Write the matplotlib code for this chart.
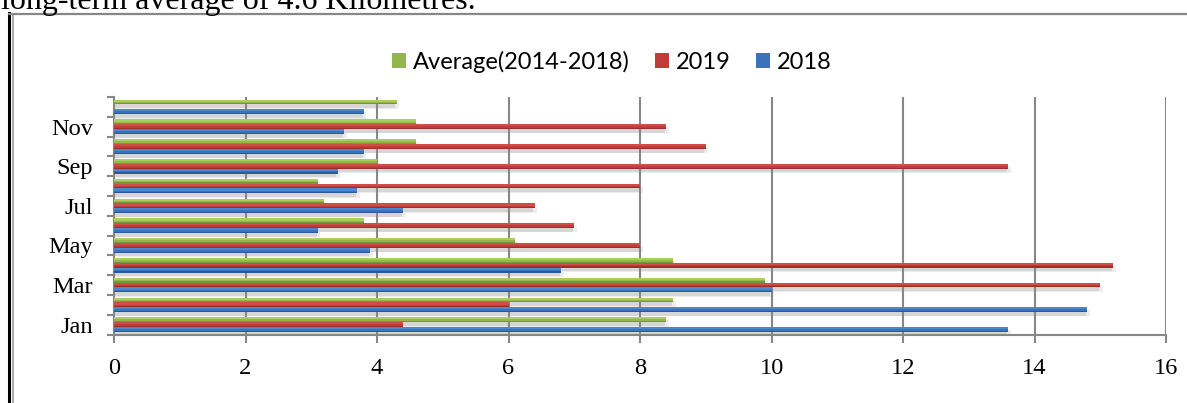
import numpy as np
import matplotlib
matplotlib.use("Agg")
import matplotlib.pyplot as plt
from matplotlib.patches import Rectangle
from matplotlib.lines import Line2D

# monthly visibility values (km)
months = ["Jan", "Feb", "Mar", "Apr", "May", "Jun", "Jul", "Aug", "Sep", "Oct", "Nov", "Dec"]
vis_2018 = [13.6, 14.8, 10.0, 6.8, 3.9, 3.1, 4.4, 3.7, 3.4, 3.8, 3.5, 3.8]
vis_2019 = [4.4, 6.0, 15.0, 15.2, 8.0, 7.0, 6.4, 8.0, 13.6, 9.0, 8.4, np.nan]
vis_avg = [8.4, 8.5, 9.9, 8.5, 6.1, 3.8, 3.2, 3.1, 4.0, 4.6, 4.6, 4.3]
shown_months = ["Jan", "Mar", "May", "Jul", "Sep", "Nov"]
xticks = [0, 2, 4, 6, 8, 10, 12, 14, 16]

W, H = 1187, 403
fig = plt.figure(figsize=(W / 100, H / 100), dpi=100)
ax = fig.add_axes([114 / W, 1 - 334.5 / H, 1052 / W, 237.5 / H])

y = np.arange(len(months))
h = 0.245
# (values, offset, light, base, dark, legend label)
series = [
    (vis_avg, h, "#aacd5c", "#93b74a", "#76963a", "Average(2014-2018)"),
    (vis_2019, 0.0, "#d24d4a", "#c03c39", "#9e2e2c", "2019"),
    (vis_2018, -h, "#4b87d0", "#3a73bc", "#2b5a98", "2018"),
]

for vals, off, light, base, dark, lab in series:
    v = np.array(vals, dtype=float)
    # soft drop shadow under each bar
    ax.barh(y + off - 0.19, v + 0.04, height=h + 0.06, color="#ededed", zorder=1)
    ax.barh(y + off - 0.19, v - 0.02, height=h, color="#d6d6d6", zorder=1.1)
    # bar with a simple vertical shading
    ax.barh(y + off, v, height=h, color=base, zorder=3)
    ax.barh(y + off + h * 0.28, v, height=h * 0.44, color=light, zorder=3.1)
    ax.barh(y + off - h * 0.38, v, height=h * 0.24, color=dark, zorder=3.1)

gray = "#878787"
ax.set_xlim(0, 16)
ax.set_ylim(-0.5, len(months) - 0.5)
ax.set_xticks(xticks)
ax.set_xticklabels([str(t) for t in xticks])
for t in xticks[1:]:
    ax.axvline(t, color=gray, lw=1.5, zorder=2)

ax.set_yticks([months.index(m) for m in shown_months])
ax.set_yticklabels(shown_months)
ax.set_yticks(np.arange(len(months) + 1) - 0.5, minor=True)
ax.tick_params(axis="y", which="major", length=0, pad=15)
ax.tick_params(axis="y", which="minor", length=5.2, width=1.5, color=gray)
ax.tick_params(axis="x", length=5.8, width=1.5, color=gray, pad=11)

for lbl in ax.get_xticklabels() + ax.get_yticklabels():
    lbl.set_fontfamily("Liberation Serif")
    lbl.set_fontsize(17.6)

for s in ["top", "right"]:
    ax.spines[s].set_visible(False)
for s in ["left", "bottom"]:
    ax.spines[s].set_color(gray)
    ax.spines[s].set_linewidth(1.5)

handles = [Rectangle((0, 0), 1, 1, facecolor=s[3], edgecolor="none") for s in series]
fig.legend(handles, [s[5] for s in series], loc="center", ncol=3,
           bbox_to_anchor=(612 / W, 1 - 62 / H), frameon=False,
           prop={"family": "Lato", "size": 17},
           handlelength=0.6, handleheight=0.6, handletextpad=0.3,
           columnspacing=1.05)

# frame around the chart (open at right and bottom)
fig.add_artist(Line2D([9.5 / W, 9.5 / W], [0, 1 - 13 / H], color="black", lw=2.2))
fig.add_artist(Line2D([13 / W, 13 / W], [0, 1 - 15 / H], color="#9a9a9a", lw=1.2))
fig.add_artist(Line2D([8.5 / W, 1], [1 - 14 / H, 1 - 14 / H], color=gray, lw=1.6))

# caption line from the page above, clipped by the image edge
fig.text(1 / W, 1 - 8.5 / H, "long-term average of 4.6 Kilometres.",
         family="Liberation Serif", fontsize=23, va="baseline", ha="left")

fig.savefig("out.png", dpi=100)
